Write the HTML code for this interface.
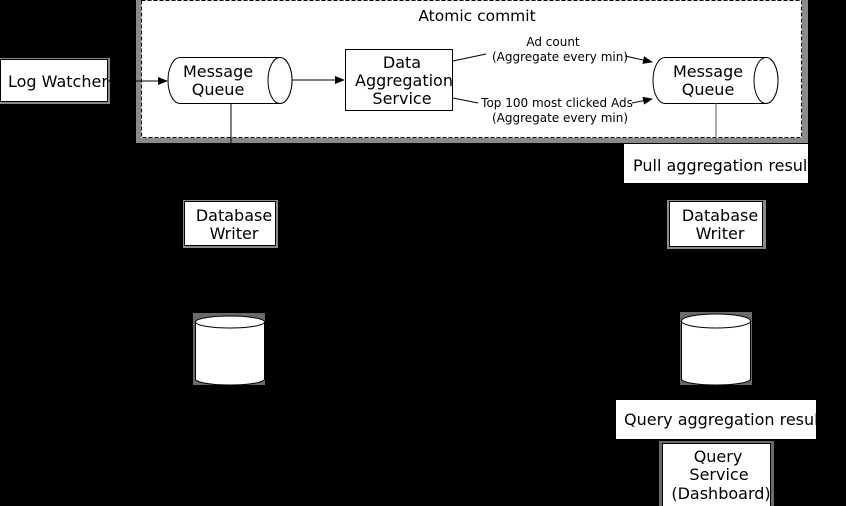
<!DOCTYPE html>
<html><head><style>
html,body{margin:0;padding:0;background:#000;}
svg{display:block;font-family:"DejaVu Sans","Liberation Sans",sans-serif;}
</style></head><body>
<svg width="846" height="506" viewBox="0 0 846 506" xmlns="http://www.w3.org/2000/svg">
<defs><marker id="a" markerWidth="10" markerHeight="8" refX="9" refY="4" orient="auto" markerUnits="userSpaceOnUse"><path d="M0,0 L10,4 L0,8 z" fill="#000"/></marker>
<clipPath id="c1"><rect x="624" y="144" width="184" height="39"/></clipPath>
<clipPath id="c2"><rect x="616" y="400" width="200" height="39"/></clipPath>
<clipPath id="c3"><rect x="0" y="0" width="108" height="110"/></clipPath></defs>
<rect x="0" y="0" width="846" height="506" fill="#000"/>
<rect x="136" y="0" width="672" height="143" fill="#8a8a8a"/>
<rect x="141" y="0" width="661" height="138" fill="#fff"/>
<rect x="141.5" y="0.5" width="660" height="137" fill="none" stroke="#000" stroke-dasharray="4,2"/>
<text x="477" y="21" font-size="15.5" text-anchor="middle">Atomic commit</text>
<rect x="0" y="58" width="110" height="46" fill="#8a8a8a"/>
<rect x="0.5" y="59.5" width="107" height="42" fill="#fff" stroke="#000"/>
<text x="8" y="87" font-size="16" clip-path="url(#c3)">Log Watcher</text>
<line x1="108" y1="81" x2="167" y2="81" stroke="#000" marker-end="url(#a)"/>
<path d="M180,57.5 H280 A12,23 0 0 1 280,103.5 H180 A12,23 0 0 1 180,57.5 z" fill="#fff" stroke="#000"/>
<ellipse cx="280" cy="80.5" rx="12" ry="23" fill="#fff" stroke="#000"/>
<text x="218" y="77" font-size="16" text-anchor="middle">Message</text>
<text x="218" y="95" font-size="16" text-anchor="middle">Queue</text>
<line x1="292" y1="80" x2="344" y2="80" stroke="#000" marker-end="url(#a)"/>
<line x1="231" y1="103" x2="231" y2="143" stroke="#000"/>
<rect x="345.5" y="49.5" width="107" height="61" fill="#fff" stroke="#000"/>
<text x="402" y="68" font-size="16" text-anchor="middle">Data</text>
<text x="404" y="86" font-size="16" text-anchor="middle">Aggregation</text>
<text x="402" y="104" font-size="16" text-anchor="middle">Service</text>
<line x1="453" y1="61" x2="486" y2="54" stroke="#000"/>
<line x1="625" y1="56" x2="652" y2="62" stroke="#000" marker-end="url(#a)"/>
<line x1="453" y1="98" x2="478" y2="103" stroke="#000"/>
<line x1="632" y1="103" x2="652" y2="99" stroke="#000" marker-end="url(#a)"/>
<text x="553" y="46" font-size="12" text-anchor="middle">Ad count</text>
<text x="560" y="61" font-size="12" text-anchor="middle">(Aggregate every min)</text>
<text x="557" y="107" font-size="12" text-anchor="middle">Top 100 most clicked Ads</text>
<text x="560" y="122" font-size="12" text-anchor="middle">(Aggregate every min)</text>
<path d="M665,57.5 H766 A12,23 0 0 1 766,103.5 H665 A12,23 0 0 1 665,57.5 z" fill="#fff" stroke="#000"/>
<ellipse cx="766" cy="80.5" rx="12" ry="23" fill="#fff" stroke="#000"/>
<text x="708" y="77" font-size="16" text-anchor="middle">Message</text>
<text x="708" y="95" font-size="16" text-anchor="middle">Queue</text>
<line x1="716" y1="103" x2="716" y2="143" stroke="#555"/>
<rect x="624" y="144" width="184" height="39" fill="#fff"/>
<text x="633" y="171" font-size="16" clip-path="url(#c1)">Pull aggregation result</text>
<rect x="183" y="200" width="95" height="48" fill="#8a8a8a"/>
<rect x="184.5" y="201.5" width="91" height="44" fill="#fff" stroke="#000"/>
<text x="234" y="221" font-size="16" text-anchor="middle">Database</text>
<text x="234" y="239" font-size="16" text-anchor="middle">Writer</text>
<rect x="667" y="200" width="99" height="49" fill="#8a8a8a"/>
<rect x="669.5" y="201.5" width="93" height="45" fill="#fff" stroke="#000"/>
<text x="720" y="221" font-size="16" text-anchor="middle">Database</text>
<text x="720" y="239" font-size="16" text-anchor="middle">Writer</text>
<rect x="193" y="313" width="72" height="72" fill="#6a6a6a"/>
<path d="M195.5,322 V379 A34.5,6 0 0 0 264.5,379 V322" fill="#fff" stroke="#000"/>
<ellipse cx="230" cy="322" rx="34.5" ry="6" fill="#fff" stroke="#000"/>
<rect x="680" y="312" width="72" height="73" fill="#6a6a6a"/>
<path d="M681.5,321 V379 A34.5,6 0 0 0 750.5,379 V321" fill="#fff" stroke="#000"/>
<ellipse cx="716" cy="321" rx="34.5" ry="7" fill="#fff" stroke="#000"/>
<rect x="616" y="400" width="200" height="39" fill="#fff"/>
<text x="624" y="425" font-size="16" clip-path="url(#c2)">Query aggregation result</text>
<rect x="659" y="441" width="115" height="65" fill="#6a6a6a"/>
<rect x="662.5" y="443.5" width="108" height="64" fill="#fff" stroke="#000"/>
<text x="718" y="462" font-size="16" text-anchor="middle">Query</text>
<text x="719" y="480" font-size="16" text-anchor="middle">Service</text>
<text x="721" y="499" font-size="16" text-anchor="middle">(Dashboard)</text>
</svg>
</body></html>
